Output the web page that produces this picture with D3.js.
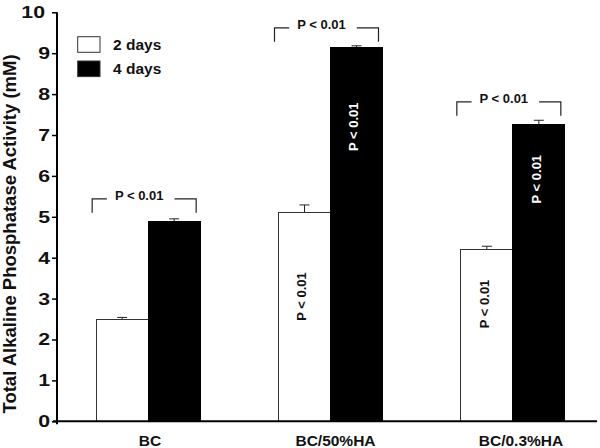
<!DOCTYPE html>
<html>
<head>
<meta charset="utf-8">
<script src="https://cdn.jsdelivr.net/npm/d3@7"></script>
<style>
  html, body { margin: 0; padding: 0; background: #fff; }
  svg text { font-family: "Liberation Sans", Arial, sans-serif; font-weight: bold; fill: #111; }
</style>
</head>
<body>
<svg id="chart" width="600" height="448"></svg>
<script>
// ---- data ----
const categories = ["BC", "BC/50%HA", "BC/0.3%HA"];
const seriesNames = ["2 days", "4 days"];
const twoDays = [2.50, 5.11, 4.20];
const twoDaysErr = [0.04, 0.18, 0.08];
const fourDays = [4.88, 9.14, 7.26];
const fourDaysErr = [0.07, 0.04, 0.10];
const yTicks = [0, 1, 2, 3, 4, 5, 6, 7, 8, 9, 10];
const bracketLevels = [5.44, 9.62, 7.81];          // data units
const pLabel = "P < 0.01";
const inBarLabelTwo = [null, 3.05, 2.87];           // data units (label centre)
const inBarLabelFour = [null, 7.2, 5.92];
const yTitle = "Total Alkaline Phosphatase Activity (mM)";

// ---- layout ----
const svg = d3.select("#chart");
const axisX = 57, axisY0 = 421.3, axisYTop = 12.3;
const x = d3.scaleBand().domain(categories).range([axisX, 604]).padding(0);
const xLabel = d3.scalePoint().domain(categories).range([150, 521]);
const pairW = 104;
const xs = d3.scaleBand().domain(seriesNames).range([0, pairW]).padding(0);
const y = d3.scaleLinear().domain([0, 10]).range([axisY0, axisYTop]);
const fills = { "2 days": "#ffffff", "4 days": "#000000" };

const rows = [];
categories.forEach((c, i) => {
  rows.push({ cat: c, s: "2 days", v: twoDays[i], e: twoDaysErr[i], lab: inBarLabelTwo[i] });
  rows.push({ cat: c, s: "4 days", v: fourDays[i], e: fourDaysErr[i], lab: inBarLabelFour[i] });
});
const bx = d => x(d.cat) + x.bandwidth() / 2 - pairW / 2 + xs(d.s);

// error bars (behind bars)
const eg = svg.append("g").attr("stroke", "#222").attr("stroke-width", 1);
rows.forEach(d => {
  const cx = bx(d) + xs.bandwidth() / 2;
  eg.append("line").attr("x1", cx).attr("x2", cx).attr("y1", y(d.v)).attr("y2", y(d.v + d.e));
  eg.append("line").attr("x1", cx - 5).attr("x2", cx + 5).attr("y1", y(d.v + d.e)).attr("y2", y(d.v + d.e));
});

// bars
svg.append("g").selectAll("rect").data(rows).join("rect")
  .attr("x", d => bx(d))
  .attr("y", d => y(d.v))
  .attr("width", xs.bandwidth())
  .attr("height", d => y(0) - y(d.v))
  .attr("fill", d => fills[d.s])
  .attr("stroke", d => d.s === "2 days" ? "#333" : "#000")
  .attr("stroke-width", 1)
  .attr("shape-rendering", "crispEdges");

// in-bar rotated labels
rows.filter(d => d.lab !== null).forEach(d => {
  const cx = bx(d) + xs.bandwidth() / 2 - 3;
  const cy = y(d.lab);
  svg.append("text")
    .attr("transform", `translate(${cx},${cy}) rotate(-90)`)
    .attr("text-anchor", "middle")
    .attr("dy", "0.36em")
    .style("font-size", "13px")
    .style("fill", d.s === "4 days" ? "#fff" : "#111")
    .text(pLabel);
});

// y axis
const tickPad = 2, tickLen = 5;
const yAxis = d3.axisLeft(y).tickValues(yTicks).tickSize(tickLen).tickPadding(tickPad).tickFormat(d3.format("d"));
const ga = svg.append("g").attr("transform", `translate(${axisX},0)`).call(yAxis);
ga.select(".domain").attr("stroke", "#000").attr("stroke-width", 2).attr("d", `M0,${axisYTop}V${axisY0 + 3}`);
ga.selectAll(".tick line").attr("stroke", "#000").attr("stroke-width", 1.5);
ga.selectAll(".tick text")
  .attr("x", null)
  .attr("transform", d => `translate(${-(tickLen + tickPad) - (d >= 10 ? 5 : 0)},0) scale(1.25,1)`)
  .style("font-size", "17px").attr("fill", "#111")
  .style("font-family", '"Liberation Sans", Arial, sans-serif').style("font-weight", "bold");

// x axis
const gx = svg.append("g").attr("transform", `translate(0,${axisY0})`);
gx.append("path").attr("d", `M${axisX - 4},0H597`).attr("stroke", "#000").attr("stroke-width", 2).attr("fill", "none");
gx.selectAll("text.cat").data(categories).join("text").attr("class", "cat")
  .attr("x", d => xLabel(d)).attr("y", 19).attr("dy", "0.36em")
  .attr("text-anchor", "middle")
  .style("font-size", "15.5px")
  .text(d => d);

// y title
svg.append("text")
  .attr("transform", `translate(16,234) rotate(-90)`)
  .attr("text-anchor", "middle")
  .style("font-size", "18.5px")
  .text(yTitle);

// brackets
const bg = svg.append("g");
categories.forEach((c, i) => {
  const left = x(c) + x.bandwidth() / 2 - pairW / 2 - 4;
  const right = x(c) + x.bandwidth() / 2 + pairW / 2 - 4;
  const ly = y(bracketLevels[i]);
  const tcx = (left + right) / 2 - 5;
  const t = bg.append("text")
    .attr("x", tcx).attr("y", ly - 3.5)
    .attr("text-anchor", "middle").attr("dy", "0.36em")
    .style("font-size", "13px")
    .text(pLabel);
  const bb = t.node().getBBox();
  const path = d3.path();
  path.moveTo(left, ly + 14); path.lineTo(left, ly); path.lineTo(bb.x - 8, ly);
  path.moveTo(bb.x + bb.width + 11, ly); path.lineTo(right, ly); path.lineTo(right, ly + 14);
  bg.append("path").attr("d", path.toString()).attr("fill", "none").attr("stroke", "#222").attr("stroke-width", 1.2);
});

// legend
const lg = svg.append("g");
seriesNames.forEach((s, i) => {
  const ly = 36.7 + i * 24.3;
  lg.append("rect").attr("x", 77.7).attr("y", ly).attr("width", 22.3).attr("height", 15.6)
    .attr("fill", fills[s]).attr("stroke", "#333").attr("stroke-width", 1);
  lg.append("text").attr("x", 113).attr("y", ly + 7.8).attr("dy", "0.36em")
    .style("font-size", "15.5px").text(s);
});
</script>
</body>
</html>
